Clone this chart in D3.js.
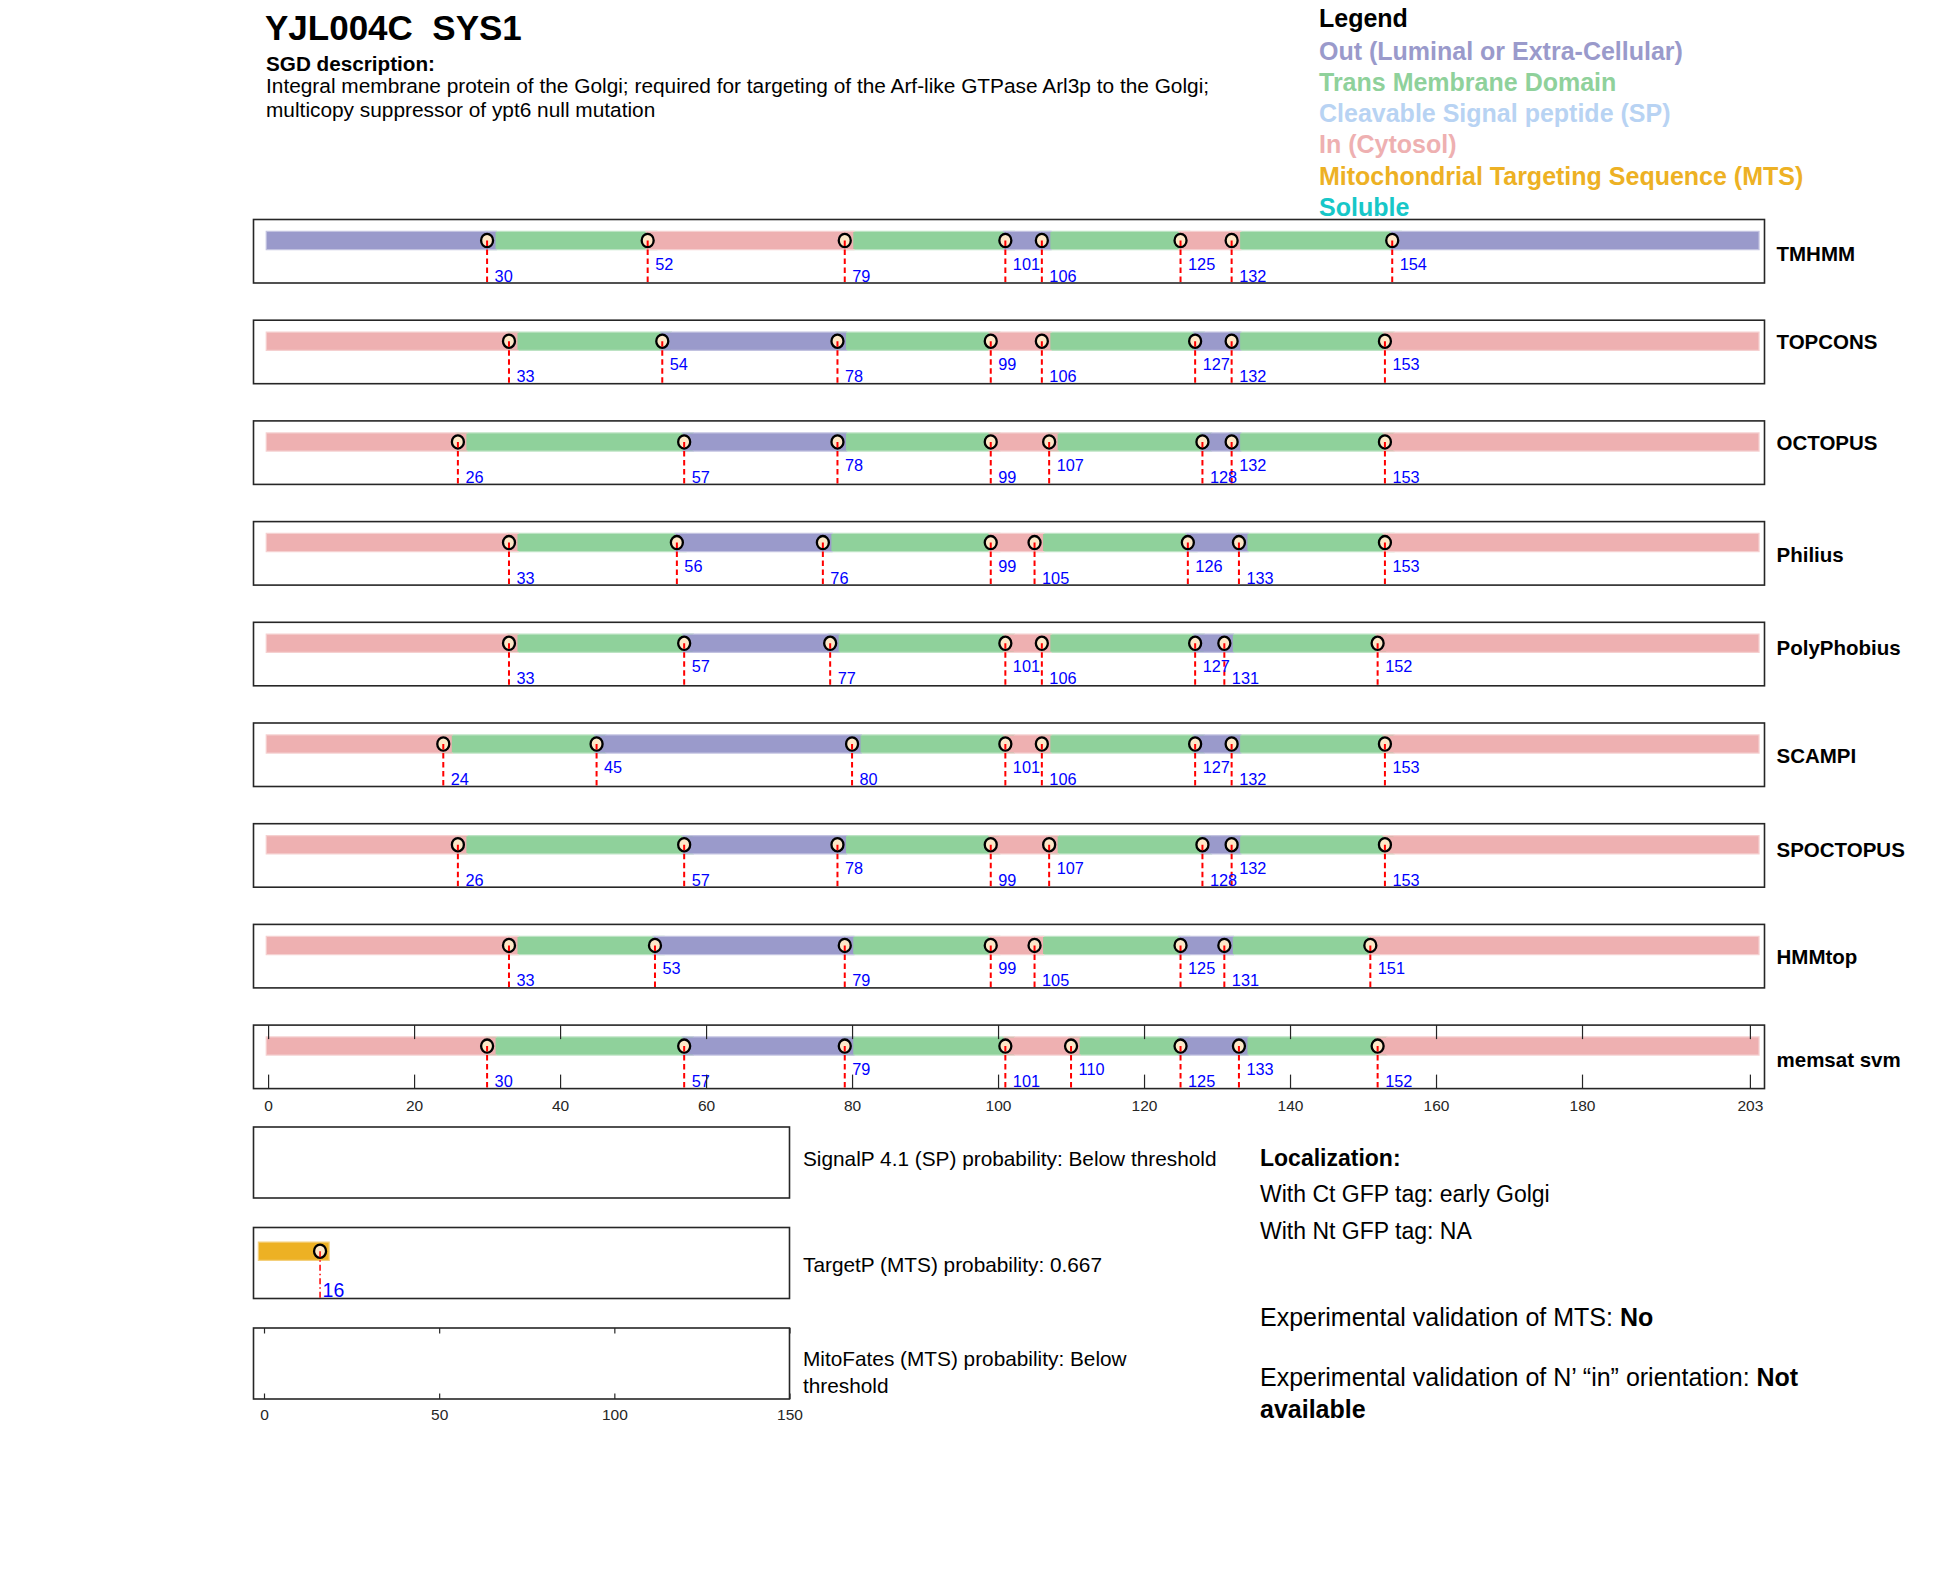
<!DOCTYPE html>
<html><head><meta charset="utf-8">
<script src="https://cdn.jsdelivr.net/npm/d3@7"></script>
<style>
body{margin:0;background:#fff}
svg{display:block}
text{font-family:"Liberation Sans",Arial,Helvetica,sans-serif}
</style>
</head><body>
<script>
// ---------------- DATA ----------------
const seqLength = 203;
const predictorNames = ["TMHMM","TOPCONS","OCTOPUS","Philius","PolyPhobius","SCAMPI","SPOCTOPUS","HMMtop","memsat svm"];
const boundsTMHMM      = [30,52,79,101,106,125,132,154];
const topoTMHMM        = ["out","tm","in","tm","out","tm","in","tm","out"];
const boundsTOPCONS    = [33,54,78,99,106,127,132,153];
const topoTOPCONS      = ["in","tm","out","tm","in","tm","out","tm","in"];
const boundsOCTOPUS    = [26,57,78,99,107,128,132,153];
const topoOCTOPUS      = ["in","tm","out","tm","in","tm","out","tm","in"];
const boundsPhilius    = [33,56,76,99,105,126,133,153];
const topoPhilius      = ["in","tm","out","tm","in","tm","out","tm","in"];
const boundsPolyPhobius= [33,57,77,101,106,127,131,152];
const topoPolyPhobius  = ["in","tm","out","tm","in","tm","out","tm","in"];
const boundsSCAMPI     = [24,45,80,101,106,127,132,153];
const topoSCAMPI       = ["in","tm","out","tm","in","tm","out","tm","in"];
const boundsSPOCTOPUS  = [26,57,78,99,107,128,132,153];
const topoSPOCTOPUS    = ["in","tm","out","tm","in","tm","out","tm","in"];
const boundsHMMtop     = [33,53,79,99,105,125,131,151];
const topoHMMtop       = ["in","tm","out","tm","in","tm","out","tm","in"];
const boundsMemsat     = [30,57,79,101,110,125,133,152];
const topoMemsat       = ["in","tm","out","tm","in","tm","out","tm","in"];

const mainTicks  = [0,20,40,60,80,100,120,140,160,180,203];
const lowerTicks = [0,50,100,150];
const targetPBounds = [16];
const targetPTopo   = ["mts"];

const legendLabels = ["Out (Luminal or Extra-Cellular)","Trans Membrane Domain","Cleavable Signal peptide (SP)","In (Cytosol)","Mitochondrial Targeting Sequence (MTS)","Soluble"];
const legendKeys   = ["out","tm","sp","in","mts","sol"];

const title = "YJL004C  SYS1";
const descLines = ["Integral membrane protein of the Golgi; required for targeting of the Arf-like GTPase Arl3p to the Golgi;","multicopy suppressor of ypt6 null mutation"];
const lowerTexts = [["SignalP 4.1 (SP) probability: Below threshold"],["TargetP (MTS) probability: 0.667"],["MitoFates (MTS) probability: Below","threshold"]];

// ---------------- STYLE / LAYOUT ----------------
const colors = {out:"#9a9acb", tm:"#8fd19b", in:"#eeb0b1", sp:"#b8d3f3", mts:"#edb124", sol:"#17c7c8"};
const FONT = '"Liberation Sans",Arial,Helvetica,sans-serif';
const rowLabelY = [261, 349, 450, 562, 655, 763, 857, 964, 1067];   // baselines of the row names
const lowerTextOffset = [38.5, 44, 38];

const predictors = predictorNames.map((name,i)=>({
  name,
  bounds:[boundsTMHMM,boundsTOPCONS,boundsOCTOPUS,boundsPhilius,boundsPolyPhobius,boundsSCAMPI,boundsSPOCTOPUS,boundsHMMtop,boundsMemsat][i],
  topo:[topoTMHMM,topoTOPCONS,topoOCTOPUS,topoPhilius,topoPolyPhobius,topoSCAMPI,topoSPOCTOPUS,topoHMMtop,topoMemsat][i]
}));

const W=1950,H=1573;
const svg=d3.select("body").append("svg").attr("width",W).attr("height",H);
svg.append("rect").attr("width",W).attr("height",H).attr("fill","#fff");

// header
svg.append("text").attr("x",265).attr("y",40).attr("font-size",35).attr("font-weight","bold")
  .style("white-space","pre").attr("xml:space","preserve").text(title);
svg.append("text").attr("x",266).attr("y",71).attr("font-size",20.7).attr("font-weight","bold").text("SGD description:");
descLines.forEach((t,i)=>svg.append("text").attr("x",266).attr("y",93+i*23.5).attr("font-size",20.85).text(t));

// legend
svg.append("text").attr("x",1319).attr("y",27).attr("font-size",25).attr("font-weight","bold").text("Legend");
legendLabels.forEach((t,i)=>svg.append("text").attr("x",1319).attr("y",59.5+i*31.3)
  .attr("font-size",25).attr("font-weight","bold").attr("fill",colors[legendKeys[i]]).text(t));

// scales
const x = d3.scaleLinear().domain([-2,205]).range([253.5,1764.5]);
const xl = d3.scaleLinear().domain([-3,150]).range([253.5,789.5]);
const panelTop0=219.5, panelStep=100.7, panelH=63.5, barOff=21, BAR=18;

function lighten(c){return d3.interpolateRgb(c,"#fff")(0.4);}

function drawTrack(g, sx, bounds, topo, len, barY, bottomY, opts){
  const segs = topo.map((t,i)=>({type:t, start: i===0?1:bounds[i-1]+1, end: i<bounds.length?bounds[i]:len}));
  const order = segs.filter(s=>s.type==="tm").concat(segs.filter(s=>s.type!=="tm"));
  g.selectAll("line.halo").data(order).enter().append("line")
    .attr("x1",d=>sx(d.start)).attr("x2",d=>sx(d.end)).attr("y1",barY).attr("y2",barY)
    .attr("stroke",d=>lighten(colors[d.type])).attr("stroke-width",BAR+1.5).attr("stroke-linecap","square");
  g.selectAll("line.seg").data(order).enter().append("line")
    .attr("x1",d=>sx(d.start)).attr("x2",d=>sx(d.end)).attr("y1",barY).attr("y2",barY)
    .attr("stroke",d=>colors[d.type]).attr("stroke-width",BAR-1).attr("stroke-linecap","square");
  g.selectAll("ellipse.pt").data(bounds).enter().append("ellipse")
    .attr("cx",d=>sx(d)).attr("cy",barY).attr("rx",6).attr("ry",6.6)
    .attr("fill","#fde8c8").attr("stroke","#000").attr("stroke-width",2.3);
  g.selectAll("line.dash").data(bounds).enter().append("line")
    .attr("x1",d=>sx(d)).attr("x2",d=>sx(d)).attr("y1",barY).attr("y2",bottomY)
    .attr("stroke","#ff0000").attr("stroke-width",opts.dashW).attr("stroke-dasharray",opts.dash);
  let prevLevel="low", prev=null;
  const lbl = bounds.map((b,i)=>{
    let lev="low";
    if(i>0 && prevLevel==="low" && b-prev<25) lev="up";
    prevLevel=lev; prev=b;
    return {b,lev};
  });
  g.selectAll("text.lab").data(lbl).enter().append("text")
    .attr("x",d=>sx(d.b)+opts.labDx).attr("y",d=>d.lev==="low"?bottomY-1.5:bottomY-13.5)
    .attr("font-size",opts.labSize).attr("fill","#0000ff").text(d=>d.b);
}

predictors.forEach((p,i)=>{
  const top=panelTop0+i*panelStep;
  const g=svg.append("g");
  g.append("rect").attr("x",x(-2)).attr("y",top).attr("width",x(205)-x(-2)).attr("height",panelH)
    .attr("fill","#fff").attr("stroke","#262626").attr("stroke-width",1.6);
  drawTrack(g,x,p.bounds,p.topo,seqLength,top+barOff,top+panelH,{dash:"5.5,3.5",dashW:2,labDx:7.5,labSize:16.3});
  g.append("text").attr("x",1776.5).attr("y",rowLabelY[i]).attr("font-size",20.5).attr("font-weight","bold").text(p.name);
  if(i===predictors.length-1){
    const ab=g.append("g").attr("transform",`translate(0,${top+panelH})`)
      .call(d3.axisBottom(x).tickValues(mainTicks).tickFormat(d3.format("d")).tickSizeInner(-14).tickSizeOuter(0).tickPadding(11));
    const at=g.append("g").attr("transform",`translate(0,${top})`)
      .call(d3.axisTop(x).tickValues(mainTicks).tickFormat("").tickSizeInner(-14).tickSizeOuter(0));
    [ab,at].forEach(a=>{a.select(".domain").remove(); a.selectAll("line").attr("stroke","#262626").attr("stroke-width",1.2);
      a.selectAll("text").attr("font-family",FONT).attr("font-size",15.5).attr("fill","#262626");});
  }
});

// lower panels
const lowTop0=1127, lowStep=100.5, lowH=71;
lowerTexts.forEach((lines,i)=>{
  const top=lowTop0+i*lowStep;
  const g=svg.append("g");
  g.append("rect").attr("x",xl(-3)).attr("y",top).attr("width",xl(150)-xl(-3)).attr("height",lowH)
    .attr("fill","#fff").attr("stroke","#262626").attr("stroke-width",1.6);
  lines.forEach((t,j)=>g.append("text").attr("x",803).attr("y",top+lowerTextOffset[i]+j*26.5).attr("font-size",20.8).text(t));
  if(i===1){
    drawTrack(g,xl,targetPBounds,targetPTopo,targetPBounds[0],top+23.7,top+lowH,{dash:"6,3,1.5,3",dashW:1.5,labDx:2.5,labSize:19.5});
  }
  if(i===2){
    const ab=g.append("g").attr("transform",`translate(0,${top+lowH})`)
      .call(d3.axisBottom(xl).tickValues(lowerTicks).tickFormat(d3.format("d")).tickSizeInner(-5.5).tickSizeOuter(0).tickPadding(10));
    const at=g.append("g").attr("transform",`translate(0,${top})`)
      .call(d3.axisTop(xl).tickValues(lowerTicks).tickFormat("").tickSizeInner(-5.5).tickSizeOuter(0));
    [ab,at].forEach(a=>{a.select(".domain").remove(); a.selectAll("line").attr("stroke","#262626").attr("stroke-width",1.2);
      a.selectAll("text").attr("font-family",FONT).attr("font-size",15.5).attr("fill","#262626");});
  }
});

// localization text
const loc = svg.append("g");
loc.append("text").attr("x",1260).attr("y",1166).attr("font-size",23).attr("font-weight","bold").text("Localization:");
loc.append("text").attr("x",1260).attr("y",1202).attr("font-size",23).text("With Ct GFP tag: early Golgi");
loc.append("text").attr("x",1260).attr("y",1239).attr("font-size",23).text("With Nt GFP tag: NA");
const e1=loc.append("text").attr("x",1260).attr("y",1326).attr("font-size",25);
e1.append("tspan").text("Experimental validation of MTS: ");
e1.append("tspan").attr("font-weight","bold").text("No");
const e2=loc.append("text").attr("x",1260).attr("y",1386).attr("font-size",25);
e2.append("tspan").text("Experimental validation of N\u2019 \u201Cin\u201D orientation: ");
e2.append("tspan").attr("font-weight","bold").text("Not");
loc.append("text").attr("x",1260).attr("y",1418).attr("font-size",25).attr("font-weight","bold").text("available");
</script>
</body></html>
